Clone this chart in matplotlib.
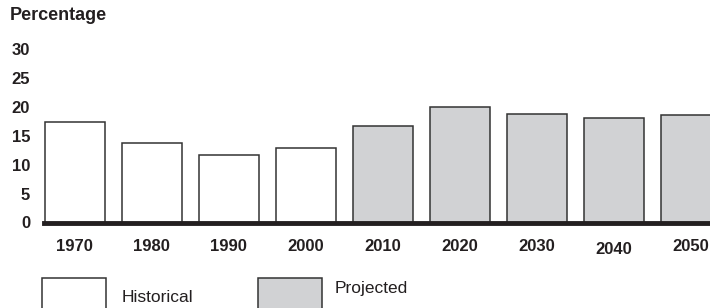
import matplotlib
matplotlib.use("Agg")
import matplotlib.pyplot as plt
from matplotlib.patches import Rectangle
from matplotlib.transforms import ScaledTranslation

plt.rcParams['font.family'] = ['Liberation Sans', 'DejaVu Sans']

# data
years = ['1970', '1980', '1990', '2000', '2010', '2020', '2030', '2040', '2050']
values = [17.3, 13.8, 11.7, 12.8, 16.7, 20.0, 18.7, 18.1, 18.6]
kinds = ['Historical'] * 4 + ['Projected'] * 5
legend_labels = ['Historical', 'Projected']
colors = {'Historical': 'white', 'Projected': '#d1d2d4'}
edge = '#333333'

fig = plt.figure(figsize=(7.1, 3.08), dpi=100)
ax = fig.add_axes([44 / 710, 1 - 222.5 / 308, 1 - 44 / 710, (222.5 - 49) / 308])

x = list(range(len(years)))
ax.bar(x, values, width=60 / 77, color=[colors[k] for k in kinds],
       edgecolor=edge, linewidth=1.1, zorder=2)
ax.axhline(0, color='#231f20', linewidth=3.5, zorder=3, clip_on=False)

ax.set_xlim(-0.4, (710 - 75) / 77)
ax.set_ylim(0, 30)
ax.set_yticks([0, 5, 10, 15, 20, 25, 30])
ax.set_xticks(x)
ax.set_xticklabels(years)
ax.tick_params(length=0)
ax.tick_params(axis='y', pad=10)
ax.tick_params(axis='x', pad=12)
for lbl in ax.get_yticklabels() + ax.get_xticklabels():
    lbl.set_fontsize(12)
    lbl.set_fontweight('bold')
    lbl.set_color('#231f20')
# the 2040 label sits a little lower in the original
lab2040 = ax.get_xticklabels()[7]
lab2040.set_transform(lab2040.get_transform() + ScaledTranslation(0, -3 / 100, fig.dpi_scale_trans))

for s in ax.spines.values():
    s.set_visible(False)

fig.text(10 / 710, 1 - 15 / 308, 'Percentage', fontsize=13, fontweight='bold',
         color='#231f20', va='center', ha='left')

# legend drawn by hand
box_x = [42, 258]
box_top = [278, 278]
text_x = [122, 335]
text_y = [297, 289]
for lab, bx, bt, tx, ty in zip(legend_labels, box_x, box_top, text_x, text_y):
    fig.patches.append(Rectangle((bx / 710, -0.05), 64 / 710, (308 - bt) / 308 + 0.05,
                                 transform=fig.transFigure, facecolor=colors[lab],
                                 edgecolor=edge, linewidth=1.1))
    fig.text(tx / 710, 1 - ty / 308, lab, fontsize=12.5, color='#231f20',
             va='center', ha='left')

fig.savefig('out.png', dpi=100)
